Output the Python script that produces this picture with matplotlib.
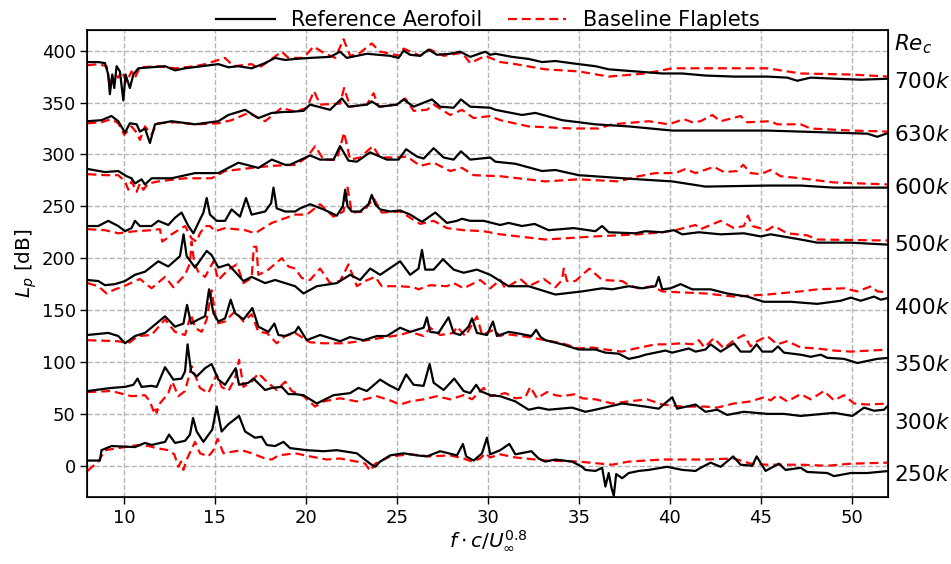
import matplotlib
matplotlib.use("Agg")
import matplotlib.pyplot as plt

# ---------------- data ----------------
# Re_c = 700k
x_700_ref = [8.0, 8.59, 8.96, 9.14, 9.23, 9.36, 9.47, 9.60, 9.78, 9.97, 10.09, 10.33, 10.52, 10.79, 11.52, 12.26, 12.81, 13.36, 14.27, 15.19, 15.74, 16.29, 17.02, 17.76, 18.31, 18.86, 19.41,
             20.23, 21.33, 21.88, 22.25, 23.35, 24.63, 25.09, 25.37, 25.73, 26.28, 26.74, 27.20, 27.93, 28.48, 29.03, 29.86, 30.13,
             30.41, 31.33, 32.24, 32.98, 33.71, 34.99, 35.91, 36.64, 38.11, 39.58, 40.68, 41.96, 43.52, 45.35, 46.45, 47.00, 47.74, 49.02, 50.49, 52.05]
y_700_ref = [389, 389, 388, 377, 358, 377, 364, 385, 380, 352, 377, 364, 377, 383, 384, 385, 381, 383, 385, 387, 384, 385, 383, 388, 393, 391, 392,
             393, 394, 399, 393, 397, 395, 393, 400, 396, 395, 401, 396, 397, 399, 394, 399, 396,
             397, 394, 392, 389, 390, 387, 385, 382, 380, 378, 378, 376, 375, 375, 374, 371, 374, 373, 372, 373]
x_700_flp = [8.0, 8.59, 9.05, 9.23, 9.41, 9.69, 9.87, 10.15, 10.42, 10.61, 10.88, 11.89, 12.81, 13.91, 14.46, 15.56, 16.02, 17.02, 17.39, 18.68, 19.04, 19.41,
             19.87, 20.42, 20.97, 21.61, 22.07, 22.43, 22.98, 23.62, 24.08, 25.18, 25.37, 26.28, 26.83, 27.57, 28.58, 29.03, 29.86, 30.68,
             31.51, 33.16, 34.99, 36.64, 38.66, 40.13, 41.96, 43.52, 45.35, 47.19, 49.94, 52.05]
y_700_flp = [386, 387, 385, 366, 378, 374, 380, 370, 380, 374, 384, 385, 383, 385, 387, 393, 385, 387, 383, 399, 393, 393,
             393, 404, 398, 393, 411, 395, 398, 407, 399, 395, 402, 395, 401, 395, 398, 388, 395, 389,
             387, 382, 380, 375, 378, 383, 383, 383, 383, 378, 377, 375]

# Re_c = 630k
x_630_ref = [8.0, 8.77, 9.32, 9.69, 10.06, 10.33, 10.70, 10.88, 11.16, 11.43, 11.71, 12.62, 13.91, 15.19, 15.74, 16.66, 17.39, 18.13, 18.86,
             19.13, 19.87, 20.23, 21.33, 21.98, 22.34, 23.35, 23.62, 24.08, 25.00, 25.37, 25.92, 26.93, 27.38, 28.12, 28.52, 29.03, 30.13,
             30.41, 31.88, 32.61, 34.08, 35.91, 37.74, 40.13, 41.69, 45.35, 49.02, 50.85, 51.40, 52.05]
y_630_ref = [332, 333, 337, 332, 321, 330, 329, 322, 325, 311, 329, 332, 329, 332, 338, 343, 335, 340, 341,
             341, 342, 348, 343, 354, 346, 348, 351, 346, 348, 353, 346, 353, 346, 345, 353, 346, 345,
             343, 338, 340, 333, 329, 327, 323, 323, 323, 321, 320, 317, 321]
x_630_flp = [8.0, 8.77, 9.32, 9.69, 10.02, 10.42, 10.70, 10.88, 11.16, 11.52, 11.80, 12.81, 13.91, 15.19, 15.92, 16.84, 17.76, 18.68, 19.41,
             20.05, 20.45, 20.78, 21.88, 22.10, 22.43, 23.35, 23.72, 23.99, 25.00, 25.46, 25.92, 26.65, 27.02, 27.93, 28.58, 29.22, 30.13, 30.68,
             32.24, 34.63, 36.09, 36.83, 38.84, 39.94, 40.77, 41.23, 41.69, 42.33, 42.79, 43.89, 44.25, 45.54, 45.90, 47.19, 47.74, 49.94, 52.05]
y_630_flp = [330, 331, 334, 330, 319, 327, 321, 314, 327, 319, 330, 331, 329, 330, 333, 340, 332, 345, 341,
             345, 361, 348, 349, 364, 346, 348, 359, 346, 348, 354, 342, 343, 348, 338, 343, 335, 337, 333,
             327, 325, 325, 329, 332, 329, 334, 331, 332, 338, 332, 337, 331, 332, 329, 329, 325, 323, 322]

# Re_c = 600k
x_600_ref = [8.0, 8.96, 9.69, 10.15, 10.42, 10.61, 10.97, 11.16, 11.52, 12.62, 13.91, 15.19, 16.29, 17.39, 18.13, 18.86,
             19.13, 20.23, 20.78, 21.52, 21.88, 22.34, 22.80, 23.53, 24.45, 25.09, 25.51, 26.10, 26.47, 27.02, 27.57, 28.12, 28.52, 29.03, 30.13,
             30.41, 31.51, 32.98, 33.71, 34.99, 36.64, 38.29, 40.13, 41.96, 45.35, 47.19, 49.02, 52.05]
y_600_ref = [286, 283, 284, 279, 277, 272, 276, 271, 277, 277, 282, 282, 292, 287, 295, 290,
             290, 299, 295, 295, 308, 294, 293, 302, 295, 295, 305, 298, 296, 306, 297, 295, 303, 295, 297,
             293, 291, 284, 285, 280, 278, 276, 274, 269, 270, 270, 268, 268]
x_600_flp = [8.0, 8.96, 9.69, 10.06, 10.24, 10.42, 10.70, 10.88, 11.07, 11.34, 11.89, 13.36, 14.82, 15.56, 17.02, 18.13, 19.41,
             20.05, 20.51, 20.97, 21.70, 22.10, 22.43, 22.98, 23.68, 24.08, 25.00, 25.55, 26.28, 27.02, 27.93, 28.58, 29.22, 30.68,
             33.16, 34.99, 37.19, 38.29, 39.21, 40.31, 40.86, 41.41, 42.42, 42.97, 43.70, 44.03, 44.44, 44.99, 45.54, 46.09, 47.19, 49.02, 52.05]
y_600_flp = [281, 280, 280, 274, 266, 274, 264, 272, 266, 272, 274, 277, 277, 284, 287, 289, 290,
             297, 308, 295, 295, 321, 295, 297, 308, 297, 297, 298, 289, 292, 284, 287, 280, 279,
             274, 276, 274, 279, 282, 282, 286, 282, 288, 283, 284, 290, 282, 281, 285, 279, 277, 273, 271]

# Re_c = 500k
x_500_ref = [8.0, 8.59, 9.14, 9.69, 10.06, 10.42, 10.61, 10.88, 11.52, 11.89, 12.44, 12.81, 13.17, 13.54, 13.82, 14.09, 14.37, 14.55, 14.73, 15.10, 15.56, 15.92, 16.38, 16.71, 17.02, 17.76, 18.09, 18.22, 18.40, 18.86, 19.41,
             19.68, 20.23, 20.97, 21.70, 22.03, 22.16, 22.29, 22.52, 22.98, 23.44, 23.62, 23.81, 24.08, 24.63, 25.18, 25.73, 26.38, 27.11, 27.75, 28.30, 28.58, 29.03, 29.77, 30.68,
             31.14, 31.88, 32.57, 33.34, 34.72, 35.91, 36.28, 36.64, 38.11, 38.66, 39.58, 40.22, 40.68, 41.59, 42.79, 44.07, 44.99, 45.54, 47.19, 48.10, 49.94, 52.05]
y_500_ref = [231, 231, 236, 231, 226, 229, 236, 231, 231, 236, 232, 239, 244, 231, 224, 234, 244, 258, 242, 236, 236, 247, 240, 258, 242, 245, 253, 268, 248, 245, 245,
             248, 252, 247, 241, 250, 266, 250, 245, 245, 252, 261, 252, 247, 245, 246, 242, 235, 244, 234, 236, 238, 236, 236, 232,
             234, 231, 233, 227, 229, 226, 231, 225, 224, 226, 225, 227, 223, 225, 223, 224, 221, 223, 218, 215, 215, 213]
x_500_flp = [8.0, 8.96, 9.69, 10.61, 11.52, 11.98, 12.11, 12.35, 12.62, 13.36, 13.72, 14.00, 14.18, 14.46, 14.73, 15.01, 15.56, 16.66, 17.21, 18.13, 19.41,
             20.05, 20.78, 21.52, 22.07, 22.29, 22.52, 23.17, 23.72, 24.17, 25.18, 25.73, 26.28, 27.02, 27.75, 28.67, 29.77, 30.68,
             33.16, 35.91, 38.29, 39.58, 40.31, 41.41, 41.69, 42.79, 43.52, 44.07, 44.29, 44.53, 45.35, 45.72, 46.45, 47.55, 48.10, 52.05]
y_500_flp = [228, 227, 224, 226, 227, 228, 216, 219, 223, 231, 219, 216, 224, 231, 231, 226, 229, 227, 224, 234, 242,
             242, 252, 240, 245, 268, 244, 245, 258, 244, 245, 239, 233, 236, 229, 227, 226, 223,
             218, 221, 223, 225, 227, 232, 228, 236, 229, 231, 241, 231, 227, 231, 224, 222, 218, 217]

# Re_c = 400k
x_400_ref = [8.0, 8.59, 8.96, 9.51, 10.06, 10.61, 11.16, 11.89, 12.44, 13.08, 13.28, 13.45, 13.91, 14.27, 14.55, 14.82, 15.19, 15.74, 16.57, 17.02, 17.76, 18.31, 19.41,
             19.87, 20.60, 21.70, 22.43, 22.98, 23.53, 24.08, 25.18, 25.73, 26.19, 26.38, 26.56, 27.02, 27.53, 28.12, 28.67, 29.40, 30.13, 30.68,
             31.14, 32.24, 33.71, 35.18, 36.28, 36.83, 37.74, 38.48, 39.21, 39.39, 39.58, 40.04, 40.59, 41.23,
             42.24, 43.15, 44.25, 45.17, 46.64, 48.10, 49.39, 49.94, 50.49, 51.22, 51.59, 52.05]
y_400_ref = [179, 178, 174, 175, 178, 184, 187, 197, 192, 202, 223, 202, 191, 200, 207, 203, 191, 194, 178, 182, 176, 179, 173,
             166, 173, 176, 184, 179, 190, 184, 197, 184, 190, 208, 189, 189, 199, 189, 186, 189, 184, 178,
             173, 173, 165, 168, 171, 170, 173, 171, 173, 182, 170, 171, 175, 170,
             170, 166, 163, 158, 158, 156, 159, 162, 159, 163, 160, 162]
x_400_flp = [8.0, 8.59, 9.05, 9.51, 9.87, 10.88, 11.52, 12.26, 12.72, 13.36, 13.63, 13.72, 13.87, 14.09, 14.46, 14.92, 15.19, 15.74, 16.20, 16.57, 17.02, 17.14, 17.28, 17.39, 17.94, 18.68, 19.04, 19.41,
             19.77, 20.23, 20.78, 21.33, 21.88, 22.34, 22.80, 23.26, 23.81, 24.17, 25.18, 25.92, 26.19, 26.83, 27.75, 28.12, 28.67, 29.58, 30.13, 30.68,
             30.96, 31.78, 32.24, 33.07, 33.71, 34.08, 34.17, 34.35, 34.81, 35.58, 36.28, 37.38, 37.74, 38.29, 39.03, 39.58, 40.68, 41.96,
             43.52, 45.35, 47.19, 48.10, 49.57, 50.30, 51.07, 51.40, 52.05]
y_400_flp = [176, 173, 166, 170, 172, 180, 171, 182, 172, 184, 195, 216, 195, 187, 182, 197, 179, 189, 194, 176, 181, 211, 211, 184, 189, 200, 192, 190,
             181, 179, 190, 176, 178, 194, 173, 178, 182, 173, 173, 172, 170, 174, 173, 176, 171, 179, 171, 179,
             171, 180, 173, 180, 172, 179, 190, 178, 178, 190, 179, 178, 174, 171, 173, 168, 167, 166,
             163, 165, 168, 170, 171, 168, 173, 168, 167]

# Re_c = 350k
x_350_ref = [8.0, 9.14, 9.69, 10.06, 10.61, 11.16, 11.71, 12.26, 12.81, 13.27, 13.47, 13.69, 14.09, 14.46, 14.68, 14.92, 15.19, 15.56, 15.87, 16.11, 16.57, 17.06, 17.39, 17.94, 18.27, 18.49, 18.86, 19.41,
             19.59, 20.05, 20.78, 21.52, 21.88, 22.43, 23.17, 23.90, 24.45, 25.18, 25.73, 26.47, 26.65, 26.83, 27.29, 27.84, 28.12, 28.48, 28.94, 29.13, 29.40, 29.95, 30.28, 30.50,
             31.14, 31.51, 32.40, 32.65, 32.90, 33.16, 34.08, 34.99, 35.91, 36.46, 37.19, 37.74, 38.29, 38.66, 39.76, 40.13, 41.04, 41.41, 41.96,
             42.24, 42.79, 43.52, 43.89, 44.44, 44.77, 45.08, 45.63, 45.94, 46.27, 47.19, 47.74, 48.29, 48.65, 49.57, 50.30, 50.85, 51.40, 52.05]
y_350_ref = [126, 128, 125, 118, 125, 128, 136, 144, 134, 137, 155, 137, 141, 144, 170, 147, 139, 142, 160, 147, 141, 152, 134, 129, 137, 126, 125, 129,
             134, 121, 126, 122, 120, 124, 121, 125, 125, 133, 129, 133, 143, 129, 128, 143, 128, 126, 134, 142, 128, 126, 139, 125,
             129, 128, 125, 131, 124, 121, 117, 112, 112, 109, 108, 103, 105, 107, 111, 109, 113, 110, 112,
             117, 110, 118, 110, 110, 117, 110, 110, 115, 109, 107, 105, 107, 104, 103, 99, 101, 103, 104]
x_350_flp = [8.0, 9.69, 10.24, 10.79, 11.52, 12.26, 12.81, 13.36, 13.69, 13.91, 14.27, 14.55, 14.82, 15.10, 15.56, 16.11, 16.57, 17.02, 17.39, 17.85, 18.40, 18.86, 19.41,
             20.23, 20.97, 22.07, 22.98, 24.08, 25.18, 25.73, 26.47, 26.83, 27.38, 28.12, 28.30, 28.76, 29.40, 29.68, 30.32, 30.68,
             30.96, 32.24, 33.16, 34.08, 34.99, 35.72, 36.46, 37.38, 38.11, 39.21, 39.76, 40.68, 41.23, 41.59, 41.90,
             42.42, 42.97, 43.52, 44.07, 44.44, 44.80, 45.35, 45.90, 46.45, 47.19, 48.10, 49.02, 49.94, 52.05]
y_350_flp = [121, 120, 118, 125, 126, 141, 129, 126, 146, 133, 129, 141, 169, 137, 139, 149, 139, 146, 129, 128, 118, 125, 128,
             119, 118, 118, 120, 123, 126, 129, 125, 133, 126, 128, 134, 125, 144, 126, 131, 125,
             127, 124, 121, 118, 113, 114, 112, 110, 113, 117, 117, 118, 117, 121, 114,
             123, 113, 121, 126, 115, 120, 125, 117, 120, 114, 113, 111, 110, 112]

# Re_c = 300k
x_300_ref = [8.0, 9.32, 10.06, 10.52, 10.75, 10.97, 11.52, 11.80, 12.26, 12.72, 13.17, 13.36, 13.50, 13.69, 14.00, 14.46, 14.82, 15.19, 15.56, 15.92, 16.14, 16.33, 16.84, 17.12, 17.76, 18.13, 18.68, 19.04, 19.41,
             19.87, 20.60, 21.52, 22.43, 22.89, 23.35, 24.08, 24.54, 25.09, 25.51, 25.92, 26.47, 26.80, 27.02, 27.57, 28.15, 28.67, 29.03, 29.36, 29.58, 30.13, 30.68,
             31.51, 32.24, 32.79, 33.34, 34.63, 35.36, 35.91, 37.38, 38.66, 39.39, 40.13, 40.40, 41.41, 41.96,
             42.60, 43.15, 44.07, 45.35, 46.27, 47.19, 49.02, 50.03, 50.67, 51.22, 51.77, 52.05]
y_300_ref = [72, 75, 76, 78, 84, 76, 77, 76, 95, 83, 84, 91, 117, 91, 86, 94, 98, 83, 78, 88, 94, 78, 80, 84, 73, 75, 76, 69, 69,
             68, 60, 68, 70, 75, 72, 83, 78, 73, 88, 78, 77, 98, 80, 73, 84, 72, 70, 78, 72, 68, 67,
             62, 54, 56, 54, 56, 52, 54, 60, 57, 55, 66, 55, 59, 52,
             54, 49, 52, 50, 50, 48, 51, 48, 56, 53, 54, 59]
x_300_flp = [8.0, 9.32, 10.42, 11.16, 11.43, 11.62, 11.71, 11.80, 11.98, 12.44, 12.66, 12.99, 13.36, 13.72, 14.18, 14.64, 15.10, 15.37, 15.74, 16.11, 16.33, 16.57, 17.02, 17.39, 17.85, 18.40, 18.86, 19.23,
             19.87, 20.51, 20.97, 21.88, 22.80, 23.90, 24.63, 25.18, 25.73, 26.47, 27.20, 27.93, 28.67, 29.13, 29.77, 30.13,
             30.96, 31.51, 32.06, 32.33, 32.70, 33.25, 33.71, 34.08, 34.81, 35.18, 35.91, 36.83, 37.74, 38.75, 39.58, 40.68, 41.96,
             42.60, 43.52, 44.44, 45.17, 45.54, 45.90, 46.45, 47.19, 47.74, 48.47, 49.02, 49.57, 50.12, 50.85, 52.05]
y_300_flp = [71, 72, 67, 68, 62, 53, 57, 51, 60, 70, 81, 67, 72, 96, 75, 70, 88, 76, 72, 84, 102, 76, 81, 89, 81, 73, 81, 72,
             67, 57, 62, 65, 62, 67, 63, 59, 62, 64, 67, 64, 68, 64, 75, 67,
             70, 65, 66, 76, 65, 71, 68, 67, 69, 65, 64, 60, 62, 64, 59, 57, 57,
             56, 60, 62, 66, 63, 68, 62, 69, 64, 72, 63, 68, 60, 59, 60]

# Re_c = 250k
x_250_ref = [8.0, 8.68, 8.77, 9.32, 10.61, 11.16, 11.52, 12.26, 12.48, 12.81, 13.36, 13.63, 13.80, 14.00, 14.37, 14.86, 15.10, 15.37, 15.74, 16.33, 16.66, 17.21, 17.57, 17.85, 18.31, 18.77, 19.13,
             20.05, 20.97, 21.70, 22.80, 23.53, 23.81, 24.08, 24.63, 25.37, 26.10, 26.65, 27.38, 28.30, 28.63, 28.81, 29.22, 29.68, 29.95, 30.13, 30.68,
             31.18, 31.51, 32.39, 32.79, 33.16, 33.71, 34.63, 35.18, 35.36, 35.91, 36.28, 36.46, 36.64, 36.79, 36.92, 37.05, 37.38, 37.74, 38.29, 38.84, 39.85, 40.68, 41.41,
             41.69, 42.24, 42.79, 43.48, 43.89, 44.53, 44.77, 45.26, 45.99, 46.36, 47.19, 47.55, 48.65, 49.02, 49.94, 50.85, 52.05]
y_250_ref = [5, 5, 15, 19, 18, 22, 20, 23, 30, 22, 24, 30, 46, 33, 23, 35, 57, 33, 40, 48, 33, 27, 28, 20, 19, 23, 17,
             15, 14, 15, 12, 2, -1, 4, 10, 12, 10, 9, 14, 10, 21, 9, 5, 12, 27, 11, 15,
             21, 11, 14, 7, 4, 6, 4, -1, -4, -5, -2, -20, -7, -21, -29, -8, -12, -7, -5, -4, -1, -4, -5,
             -2, 3, -1, 9, 1, 0, 9, -5, 2, -4, -2, -6, -7, -10, -7, -7, -5]
x_250_flp = [8.0, 8.59, 8.96, 9.69, 10.79, 11.34, 11.80, 12.44, 12.77, 12.99, 13.14, 13.27, 13.45, 13.91, 14.18, 14.64, 14.92, 15.15, 15.47, 16.11, 16.48, 17.02, 17.76, 18.13, 18.49, 19.41,
             20.23, 21.15, 21.88, 22.80, 23.26, 23.53, 23.81, 24.63, 25.73, 26.83, 27.93, 28.67, 29.13, 29.58, 29.86, 30.13, 30.68,
             31.51, 33.16, 34.99, 36.83, 37.74, 39.58, 41.96, 43.52, 44.44, 45.35, 47.19, 48.65, 49.94, 52.05]
y_250_flp = [-5, 4, 15, 17, 20, 19, 17, 15, 11, -1, 4, -4, 6, 23, 12, 9, 15, 26, 12, 14, 15, 12, 7, 6, 10, 12,
             9, 6, 7, 4, 2, -5, 2, 9, 11, 9, 10, 7, 4, 7, 12, 8, 11,
             8, 5, 4, 1, 4, 6, 6, 7, 2, 1, 1, 0, 2, 3]

# right-hand Reynolds-number labels
re_labels = ["700k", "630k", "600k", "500k", "400k", "350k", "300k", "250k"]
re_label_levels = [372, 321, 270, 215, 154, 99, 43, -7]

x_ticks = [10, 15, 20, 25, 30, 35, 40, 45, 50]
y_ticks = [0, 50, 100, 150, 200, 250, 300, 350, 400]

ref_x = [x_700_ref, x_630_ref, x_600_ref, x_500_ref, x_400_ref, x_350_ref, x_300_ref, x_250_ref]
ref_y = [y_700_ref, y_630_ref, y_600_ref, y_500_ref, y_400_ref, y_350_ref, y_300_ref, y_250_ref]
flp_x = [x_700_flp, x_630_flp, x_600_flp, x_500_flp, x_400_flp, x_350_flp, x_300_flp, x_250_flp]
flp_y = [y_700_flp, y_630_flp, y_600_flp, y_500_flp, y_400_flp, y_350_flp, y_300_flp, y_250_flp]

# ---------------- plotting ----------------
fig = plt.figure(figsize=(9.51, 5.64), dpi=100)
ax = fig.add_axes([0.092, 0.119, 0.842, 0.828])

for i in range(len(ref_x)):
    ax.plot(ref_x[i], ref_y[i], color="black", lw=1.6, zorder=3,
            label="Reference Aerofoil" if i == 0 else None)
    ax.plot(flp_x[i], flp_y[i], color="red", lw=1.6, ls=(0, (4, 2.2)), zorder=2,
            label="Baseline Flaplets" if i == 0 else None)

ax.set_xlim(8, 52)
ax.set_ylim(-30, 420)
ax.set_xticks(x_ticks)
ax.set_yticks(y_ticks)
ax.tick_params(labelsize=13, length=5, width=1)
ax.grid(True, ls="--", color="#b5b5b5", lw=1)
ax.set_axisbelow(True)
for s in ax.spines.values():
    s.set_linewidth(1.2)

ax.set_xlabel(r"$f \cdot c/U_{\infty}^{0.8}$", fontsize=14.5, labelpad=1)
ax.set_ylabel(r"$L_p$ [dB]", fontsize=14.5, labelpad=2)

ax2 = ax.twinx()
ax2.set_ylim(ax.get_ylim())
ax2.set_yticks(re_label_levels)
ax2.set_yticklabels([lbl[:-1] + r"$k$" for lbl in re_labels])
ax2.tick_params(axis="y", length=0, pad=4, labelsize=15.5)
ax.text(1.007, 406, r"$Re_c$", transform=ax.get_yaxis_transform(), fontsize=15.5,
        va="center", ha="left")

ax.legend(loc="lower center", bbox_to_anchor=(0.5, 0.99), ncol=2, frameon=False,
          fontsize=15, handlelength=2.8, handletextpad=0.8, columnspacing=1.2,
          borderaxespad=0, borderpad=0.2)

fig.savefig("out.png", dpi=100)
